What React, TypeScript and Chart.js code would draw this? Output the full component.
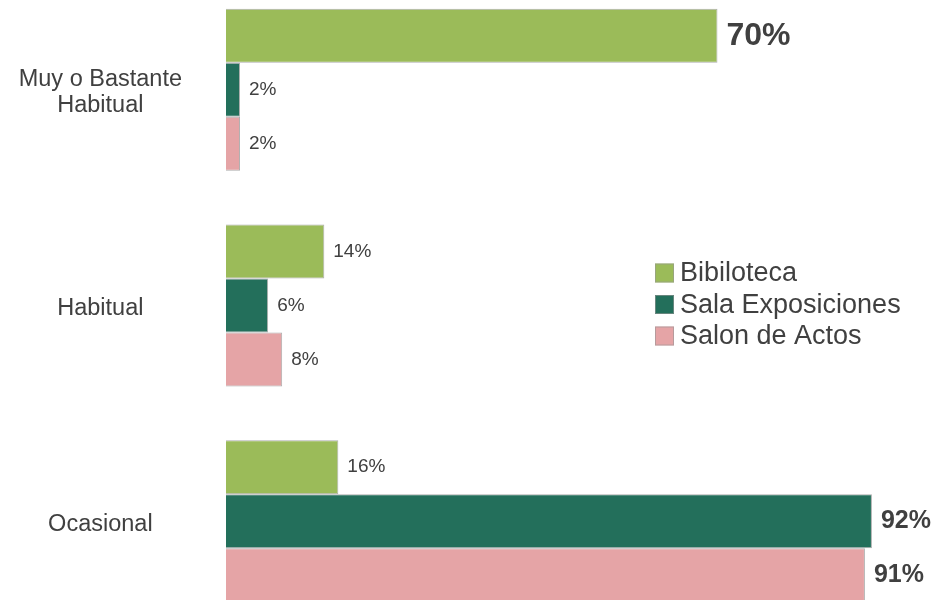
import React, { useEffect, useRef } from "react";
import { Chart, registerables } from "chart.js";

Chart.register(...registerables);

const categories: (string | string[])[] = [["Muy o Bastante", "Habitual"], "Habitual", "Ocasional"];
const seriesNames = ["Bibiloteca", "Sala Exposiciones", "Salon de Actos"];
const biblioteca = [70, 14, 16];
const salaExposiciones = [2, 6, 92];
const salonActos = [2, 8, 91];
const seriesColors = ["#9BBB59", "#236F5B", "#E5A4A6"];

const FONT = '"Liberation Sans", Arial, sans-serif';
const TEXT = "#404040";

const valueLabels = {
  id: "valueLabels",
  afterDatasetsDraw(chart: any) {
    const ctx = chart.ctx;
    ctx.save();
    chart.data.datasets.forEach((ds: any, i: number) => {
      const meta = chart.getDatasetMeta(i);
      meta.data.forEach((bar: any, j: number) => {
        const v = ds.data[j];
        const big = v >= 50;
        const size = big ? (v >= 90 ? 25 : 32) : 19;
        ctx.font = `${big ? "bold " : ""}${size}px ${FONT}`;
        ctx.fillStyle = TEXT;
        ctx.textAlign = "left";
        ctx.textBaseline = "middle";
        ctx.fillText(`${v}%`, bar.x + 9, bar.y);
      });
    });
    ctx.restore();
  },
};

const sideLegend = {
  id: "sideLegend",
  afterDraw(chart: any, _args: any, opts: any) {
    const ctx = chart.ctx;
    ctx.save();
    chart.data.datasets.forEach((ds: any, i: number) => {
      const cy = opts.y + i * opts.spacing;
      ctx.fillStyle = ds.backgroundColor;
      ctx.fillRect(opts.x, cy - opts.box / 2, opts.box, opts.box);
      ctx.strokeStyle = "rgba(150,150,150,0.6)";
      ctx.lineWidth = 1;
      ctx.strokeRect(opts.x + 0.5, cy - opts.box / 2 + 0.5, opts.box - 1, opts.box - 1);
      ctx.font = `${opts.fontSize}px ${FONT}`;
      ctx.fillStyle = TEXT;
      ctx.textAlign = "left";
      ctx.textBaseline = "middle";
      ctx.fillText(ds.label, opts.x + opts.box + 6, cy + 1);
    });
    ctx.restore();
  },
};

export default function App() {
  const ref = useRef<HTMLCanvasElement | null>(null);

  useEffect(() => {
    if (!ref.current) return;
    const seriesValues = [biblioteca, salaExposiciones, salonActos];
    const chart = new Chart(ref.current, {
      type: "bar",
      data: {
        labels: categories,
        datasets: seriesNames.map((name, i) => ({
          label: name,
          data: seriesValues[i],
          backgroundColor: seriesColors[i],
          borderColor: "rgba(140,140,140,0.7)",
          borderWidth: 1,
          categoryPercentage: 0.751,
          barPercentage: 1,
        })),
      },
      options: {
        indexAxis: "y",
        animation: false,
        responsive: false,
        maintainAspectRatio: false,
        layout: { padding: { left: 0, right: 10, top: 0, bottom: 0 } },
        scales: {
          x: { display: false, min: 0, max: 99.7 },
          y: {
            grid: { display: false, drawTicks: false },
            border: { display: false },
            ticks: {
              crossAlign: "center",
              padding: 44,
              labelOffset: 3,
              color: TEXT,
              font: { size: 23.5, family: FONT, lineHeight: 1.12 },
            },
            afterFit: (s: any) => {
              s.width = 226;
              s.paddingTop = 0;
              s.paddingBottom = 0;
            },
          },
        },
        plugins: {
          legend: { display: false },
          tooltip: { enabled: false },
          sideLegend: { x: 655, y: 291, spacing: 31.5, box: 19, fontSize: 27 },
        } as any,
      },
      plugins: [valueLabels, sideLegend],
    });
    return () => chart.destroy();
  }, []);

  return (
    <div
      style={{
        position: "fixed",
        top: 0,
        left: 0,
        width: 936,
        height: 600,
        overflow: "hidden",
        background: "#fff",
      }}
    >
      <canvas
        ref={ref}
        width={936}
        height={647}
        style={{ position: "absolute", top: -18, left: 0 }}
      />
    </div>
  );
}
